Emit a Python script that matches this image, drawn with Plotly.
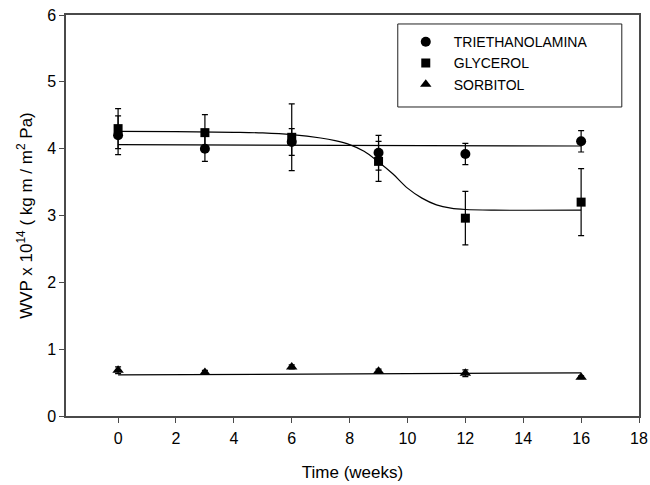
import plotly.graph_objects as go

# Data
weeks = [0, 3, 6, 9, 12, 16]

tea_wvp = [4.20, 4.00, 4.10, 3.94, 3.92, 4.11]
tea_err = [0.29, 0.19, 0.20, 0.26, 0.16, 0.16]

gly_wvp = [4.30, 4.24, 4.17, 3.81, 2.96, 3.20]
gly_err = [0.30, 0.27, 0.50, 0.30, 0.40, 0.50]

sor_wvp = [0.685, 0.652, 0.735, 0.670, 0.640, 0.580]
sor_err = [0.05, 0.03, 0.03, 0.03, 0.05, 0.02]

# Fitted curves
tea_fit_x = [0, 16]
tea_fit_y = [4.06, 4.04]

gly_fit_x = [0, 2, 4, 5, 6, 7, 7.5, 8, 8.5, 9, 9.5, 10, 10.5, 11, 11.5, 12, 13, 16]
gly_fit_y = [4.26, 4.255, 4.245, 4.235, 4.21, 4.16, 4.12, 4.06, 3.96, 3.80, 3.62,
             3.41, 3.26, 3.16, 3.11, 3.09, 3.08, 3.08]

sor_fit_x = [0, 16]
sor_fit_y = [0.615, 0.645]

x_ticks = [0, 2, 4, 6, 8, 10, 12, 14, 16, 18]
y_ticks = [0, 1, 2, 3, 4, 5, 6]

FONT = "Liberation Sans, Arial, sans-serif"
INK = "#000000"
AXIS = "#4a4a4a"

fig = go.Figure()

# fit lines
for fx, fy, shape in [(tea_fit_x, tea_fit_y, "linear"),
                      (gly_fit_x, gly_fit_y, "spline"),
                      (sor_fit_x, sor_fit_y, "linear")]:
    fig.add_trace(go.Scatter(x=fx, y=fy, mode="lines", showlegend=False,
                             line=dict(color=INK, width=1.2, shape=shape),
                             hoverinfo="skip"))

def err(v):
    return dict(type="data", array=v, visible=True, color=INK,
                thickness=1.2, width=3)

fig.add_trace(go.Scatter(x=weeks, y=tea_wvp, mode="markers", name="TRIETHANOLAMINA",
                         error_y=err(tea_err),
                         marker=dict(symbol="circle", size=10, color=INK)))
fig.add_trace(go.Scatter(x=weeks, y=gly_wvp, mode="markers", name="GLYCEROL",
                         error_y=err(gly_err),
                         marker=dict(symbol="square", size=9, color=INK)))
fig.add_trace(go.Scatter(x=weeks, y=sor_wvp, mode="markers", name="SORBITOL",
                         error_y=err(sor_err),
                         marker=dict(symbol="triangle-up", size=10, color=INK)))

# legend frame
fig.add_shape(type="rect", xref="paper", yref="paper",
              x0=0.579, x1=0.970, y0=0.7706, y1=0.9776,
              line=dict(color="#222", width=1), fillcolor="rgba(0,0,0,0)")

fig.update_layout(
    width=650, height=485,
    margin=dict(l=66, r=11, t=15, b=69),
    paper_bgcolor="white", plot_bgcolor="white",
    font=dict(family=FONT, size=16, color=INK),
    legend=dict(x=0.579, y=0.972, xanchor="left", yanchor="top",
                bgcolor="rgba(0,0,0,0)", borderwidth=0,
                font=dict(family=FONT, size=14, color=INK),
                itemwidth=46, tracegroupgap=0),
    xaxis=dict(range=[-1.8, 18], tickvals=x_ticks, ticktext=[str(t) for t in x_ticks],
               showgrid=False, zeroline=False, showline=True, linecolor=AXIS,
               linewidth=1.5, mirror=True, ticks="outside", ticklen=5,
               tickcolor=AXIS, tickwidth=1.2, automargin=False,
               tickfont=dict(size=16), ticklabelstandoff=2,
               title=dict(text="Time (weeks)", font=dict(size=17), standoff=20)),
    yaxis=dict(range=[0, 6], tickvals=y_ticks, ticktext=[str(t) for t in y_ticks],
               showgrid=False, zeroline=False, showline=True, linecolor=AXIS,
               linewidth=1.5, mirror=True, ticks="outside", ticklen=5,
               tickcolor=AXIS, tickwidth=1.2, automargin=False,
               tickfont=dict(size=16),
               title=dict(text="WVP x 10<sup>14</sup> ( kg m / m<sup>2</sup> Pa)",
                          font=dict(size=17), standoff=10)),
)

fig.write_html("out.html",
               config={"displayModeBar": False},
               post_script="document.body.style.margin='0';document.body.style.overflow='hidden';")
